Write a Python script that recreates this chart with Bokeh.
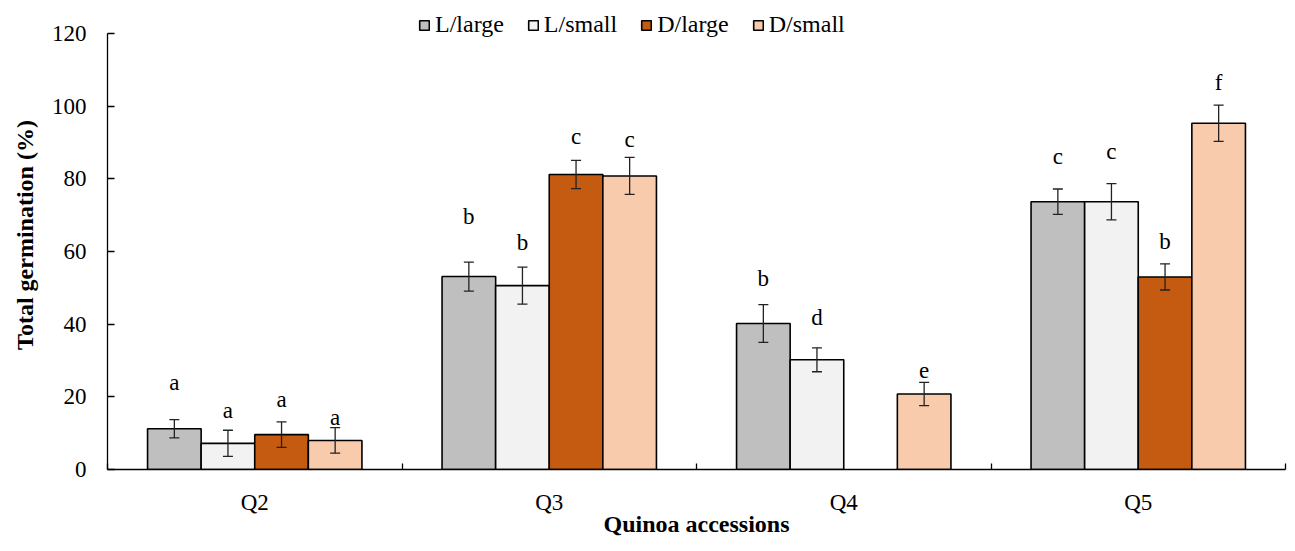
import numpy as np
from bokeh.plotting import figure
from bokeh.models import ColumnDataSource, Whisker, TeeHead, FixedTicker, Range1d, Legend, LegendItem
from bokeh.core.properties import value
from bokeh.embed import file_html
from bokeh.resources import INLINE

nan = float("nan")

groups = ["Q2", "Q3", "Q4", "Q5"]
series = ["L/large", "L/small", "D/large", "D/small"]
colors = ["#BFBFBF", "#F2F2F2", "#C55A11", "#F8CBAD"]

L_large = [11.2, 53.1, 40.2, 73.7]
L_small = [7.2, 50.6, 30.2, 73.7]
D_large = [9.6, 81.2, nan, 53.0]
D_small = [8.0, 80.8, 20.8, 95.3]

L_large_err = [2.5, 4.0, 5.2, 3.5]
L_small_err = [3.6, 5.1, 3.3, 5.0]
D_large_err = [3.5, 3.9, nan, 3.6]
D_small_err = [3.5, 5.1, 3.2, 5.0]

L_large_lbl = ["a", "b", "b", "c"]
L_small_lbl = ["a", "b", "d", "c"]
D_large_lbl = ["a", "c", "", "b"]
D_small_lbl = ["a", "c", "e", "f"]

L_large_lbl_y = [22.1, 67.7, 50.7, 84.2]
L_small_lbl_y = [14.2, 60.5, 40.0, 85.5]
D_large_lbl_y = [17.4, 89.7, nan, 60.8]
D_small_lbl_y = [12.3, 88.8, 25.3, 104.5]

y_ticks = [0, 20, 40, 60, 80, 100, 120]
y_axis_max = 120

vals = [L_large, L_small, D_large, D_small]
errs = [L_large_err, L_small_err, D_large_err, D_small_err]
lbls = [L_large_lbl, L_small_lbl, D_large_lbl, D_small_lbl]
lbl_ys = [L_large_lbl_y, L_small_lbl_y, D_large_lbl_y, D_small_lbl_y]

FONT = "Liberation Serif"
W = 0.182

H = 543
BOTTOM = 74
TOP_PAD = 33  # pixels between figure top and the 120 tick (legend lives here)
frame_h = H - BOTTOM
y_top = y_axis_max * frame_h / (frame_h - TOP_PAD)

p = figure(width=1287, height=H, output_backend="svg", toolbar_location=None,
           x_range=Range1d(0, len(groups)), y_range=Range1d(0, y_top),
           min_border_left=107, min_border_right=2, min_border_top=0, min_border_bottom=BOTTOM)
p.outline_line_color = None
p.xgrid.visible = False
p.ygrid.visible = False
p.background_fill_color = "white"

centers = np.arange(len(groups)) + 0.5
items = []
for i, name in enumerate(series):
    xs = centers + (i - 1.5) * W
    v = np.array(vals[i], dtype=float)
    e = np.array(errs[i], dtype=float)
    src = ColumnDataSource(dict(x=xs, top=v, up=v + e, lo=v - e,
                                lbl=lbls[i], ly=np.array(lbl_ys[i], dtype=float)))
    r = p.vbar(x="x", top="top", width=W, bottom=0, source=src,
               fill_color=colors[i], line_color="black", line_width=1.6)
    items.append(LegendItem(label=name, renderers=[r]))
    wh = Whisker(base="x", upper="up", lower="lo", dimension="height", source=src,
                 line_color="#222222", line_width=1.3, level="overlay",
                 upper_head=TeeHead(size=10, line_color="#222222", line_width=1.3),
                 lower_head=TeeHead(size=10, line_color="#222222", line_width=1.3))
    p.add_layout(wh)
    p.text(x="x", y="ly", text="lbl", source=src, text_align="center",
           text_baseline="alphabetic", text_font=value(FONT), y_offset=-7,
           text_font_size="23px", text_color="black")

legend = Legend(items=items, orientation="horizontal", location=(311, 431),
                glyph_width=12, glyph_height=12, label_standoff=5, spacing=23,
                padding=0, margin=0, border_line_color=None, background_fill_alpha=0,
                label_text_font=FONT, label_text_font_size="24px", label_text_color="black")
p.add_layout(legend, "center")

# y axis
p.yaxis.ticker = FixedTicker(ticks=y_ticks)
p.yaxis.bounds = (0, y_axis_max)
p.yaxis.major_tick_in = 7
p.yaxis.major_tick_out = 0
p.yaxis.minor_tick_line_color = None
p.yaxis.axis_line_color = "black"
p.yaxis.axis_line_width = 1.3
p.yaxis.major_tick_line_width = 1.3
p.yaxis.major_label_standoff = 21
p.yaxis.major_label_text_font = FONT
p.yaxis.major_label_text_font_size = "23px"
p.yaxis.major_label_text_color = "black"
p.yaxis.axis_label = "Total germination (%)"
p.yaxis.axis_label_text_font = FONT
p.yaxis.axis_label_text_font_style = "bold"
p.yaxis.axis_label_text_font_size = "24px"
p.yaxis.axis_label_text_color = "black"
p.yaxis.axis_label_standoff = 11

# x axis
p.xaxis.ticker = FixedTicker(ticks=list(centers), minor_ticks=list(range(len(groups) + 1)))
p.xaxis.major_label_overrides = {float(c): g for c, g in zip(centers, groups)}
p.xaxis.major_tick_in = 0
p.xaxis.major_tick_out = 0
p.xaxis.minor_tick_in = 6
p.xaxis.minor_tick_out = 0
p.xaxis.minor_tick_line_width = 1.3
p.xaxis.axis_line_color = "black"
p.xaxis.axis_line_width = 1.3
p.xaxis.major_label_standoff = 20
p.xaxis.major_label_text_font = FONT
p.xaxis.major_label_text_font_size = "23px"
p.xaxis.major_label_text_color = "black"
p.xaxis.axis_label = "Quinoa accessions"
p.xaxis.axis_label_text_font = FONT
p.xaxis.axis_label_text_font_style = "bold"
p.xaxis.axis_label_text_font_size = "24px"
p.xaxis.axis_label_text_color = "black"
p.xaxis.axis_label_standoff = -7

open("out.html", "w").write(file_html(p, INLINE))
